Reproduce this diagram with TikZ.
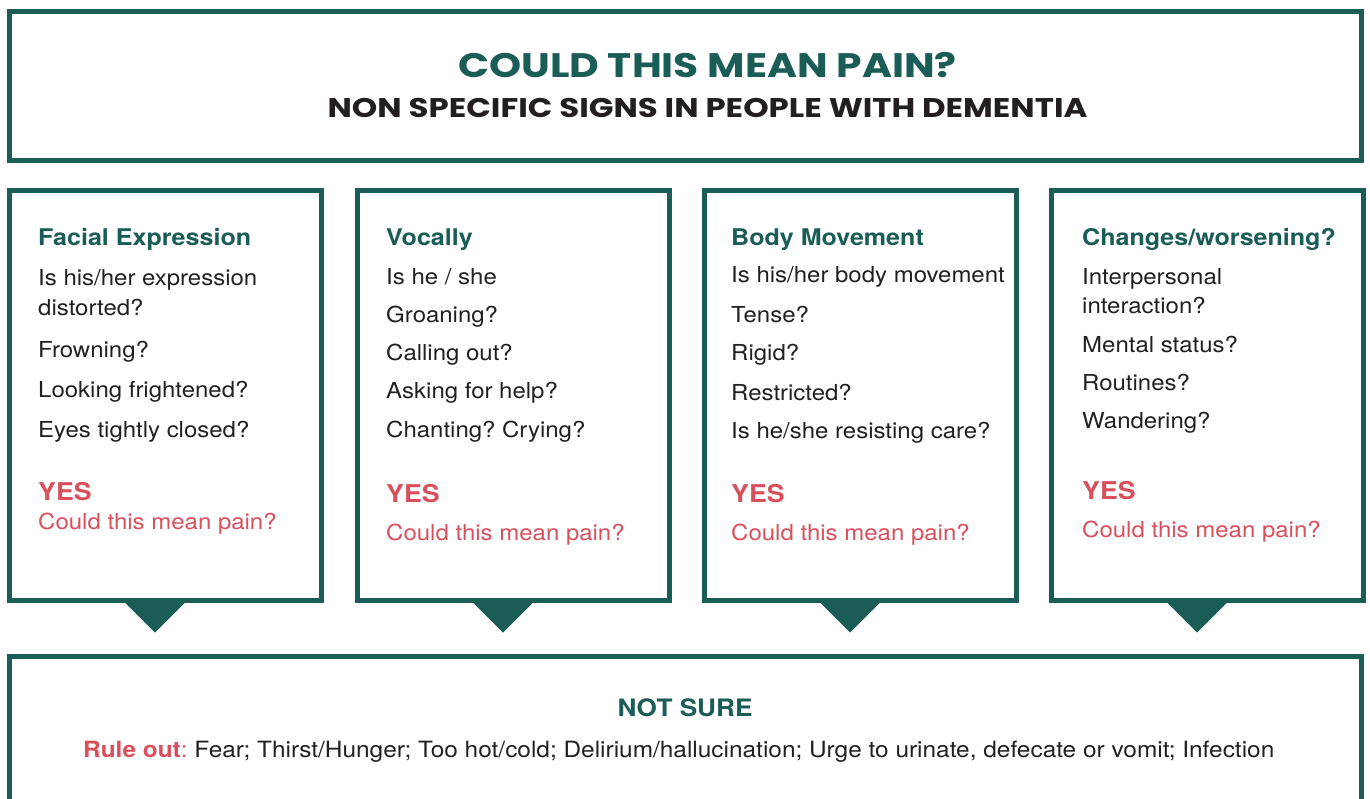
\documentclass[tikz,border=0pt]{standalone}
\usepackage{fontspec}
\setmainfont[FakeStretch=1.09]{TeX Gyre Heros}
\newfontfamily\headfont[FakeStretch=1.2]{Poppins}
\definecolor{pteal}{HTML}{1A5C56}
\definecolor{pred}{HTML}{D94F5C}
\definecolor{ink}{HTML}{231F20}
\frenchspacing
\tikzset{
  frame/.style={draw=pteal, line width=5pt, inner sep=0pt},
  panel/.style={frame, minimum width=312pt, minimum height=410pt},
  head/.style={anchor=base west, inner sep=0pt, text=pteal, font=\fontsize{23}{27}\selectfont\bfseries},
  body/.style={anchor=base west, inner sep=0pt, text=ink, font=\fontsize{22}{26}\selectfont},
  yes/.style={anchor=base west, inner sep=0pt, text=pred, font=\fontsize{24.5}{28}\selectfont\bfseries},
  pain/.style={body, text=pred}
}
\begin{document}
\begin{tikzpicture}[x=1pt,y=-1pt]
\useasboundingbox (0,0) rectangle (1370,798);
\fill[white] (0,0) rectangle (1370,798);
\clip (0,0) rectangle (1370,798);
% title box
\node[frame, minimum width=1352pt, minimum height=149pt] (top) at (685.5,86) {};
\node[anchor=base, inner sep=0pt, text=pteal, font=\headfont\fontsize{34}{38}\selectfont\bfseries] (title) at (707.5,77) {COULD THIS MEAN PAIN?};
\node[anchor=base, inner sep=0pt, text=ink, font=\headfont\fontsize{27}{30}\selectfont\bfseries] (subtitle) at (707.5,117) {NON SPECIFIC SIGNS IN PEOPLE WITH DEMENTIA};
% the four panels
\node[panel] (fe) at (165.5,395.5) {};
\node[panel] (vo) at (513.5,395.5) {};
\node[panel] (bm) at (860.5,395.5) {};
\node[panel] (cw) at (1207.5,395.5) {};
\foreach \b in {fe,vo,bm,cw}
  \fill[pteal] ([xshift=-40pt]\b.south) -- ([xshift=19pt]\b.south) -- ([xshift=-10.5pt,yshift=-29.5pt]\b.south) -- cycle;
% facial expression
\node[head] (fe0) at (38,245) {Facial Expression};
\node[body] (fe1) at (38,285) {Is his/her expression};
\node[body] (fe2) at (38,315) {distorted?};
\node[body] (fe3) at (38,357) {Frowning?};
\node[body] (fe4) at (38,397) {Looking frightened?};
\node[body] (fe5) at (38,437) {Eyes tightly closed?};
\node[yes] (feyes) at (38,500) {YES};
\node[pain] (fepain) at (38,529) {Could this mean pain?};
% vocally
\node[head] (vo0) at (386,245) {Vocally};
\node[body] (vo1) at (386,284) {Is he / she};
\node[body] (vo2) at (386,322) {Groaning?};
\node[body] (vo3) at (386,360) {Calling out?};
\node[body] (vo4) at (386,398) {Asking for help?};
\node[body] (vo5) at (386,437) {Chanting? Crying?};
\node[yes] (voyes) at (386,502) {YES};
\node[pain] (vopain) at (386,540) {Could this mean pain?};
% body movement
\node[head] (bm0) at (731,245) {Body Movement};
\node[body] (bm1) at (731,282) {Is his/her body movement};
\node[body] (bm2) at (731,322) {Tense?};
\node[body] (bm3) at (731,360) {Rigid?};
\node[body] (bm4) at (731,400) {Restricted?};
\node[body] (bm5) at (731,438) {Is he/she resisting care?};
\node[yes] (bmyes) at (731,502) {YES};
\node[pain] (bmpain) at (731,540) {Could this mean pain?};
% changes / worsening
\node[head] (cw0) at (1082,245) {Changes/worsening?};
\node[body] (cw1) at (1082,284) {Interpersonal};
\node[body] (cw2) at (1082,313) {interaction?};
\node[body] (cw3) at (1082,352) {Mental status?};
\node[body] (cw4) at (1082,390) {Routines?};
\node[body] (cw5) at (1082,428) {Wandering?};
\node[yes] (cwyes) at (1082,499) {YES};
\node[pain] (cwpain) at (1082,537) {Could this mean pain?};
% not sure box
\node[frame, minimum width=1352pt, minimum height=180pt] (ns) at (685.5,746.5) {};
\node[anchor=base, inner sep=0pt, text=pteal, font=\fontsize{24}{28}\selectfont\bfseries] (ns0) at (685,716) {NOT SURE};
\node[body, font=\fontsize{22.4}{26}\selectfont] (ns1) at (83,757) {\textcolor{pred}{\bfseries Rule out}\textcolor{pred}{:} Fear; Thirst/Hunger; Too hot/cold; Delirium/hallucination; Urge to urinate, defecate or vomit; Infection};
\end{tikzpicture}
\end{document}
